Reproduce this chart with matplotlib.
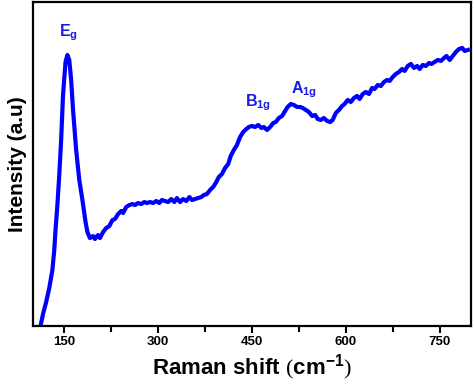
import matplotlib
matplotlib.use('Agg')
import matplotlib.pyplot as plt
from matplotlib.ticker import MultipleLocator

plt.rcParams['font.family'] = ['Liberation Sans', 'DejaVu Sans']
plt.rcParams['mathtext.fontset'] = 'custom'
plt.rcParams['mathtext.rm'] = 'Liberation Serif'
plt.rcParams['mathtext.bf'] = 'Liberation Sans:bold'
plt.rcParams['mathtext.it'] = 'Liberation Sans:bold'

# Raman spectrum
shift = [112, 116, 121, 126, 131, 134, 136, 139, 142, 145, 148, 152, 155, 158,
         161, 164, 169, 174, 179, 184, 187, 191, 196, 199, 204, 207, 212, 217,
         222, 227, 231, 236, 241, 244, 249, 254, 259, 263, 268, 273, 278, 282,
         287, 292, 297, 302, 306, 311, 316, 321, 326, 330, 335, 340, 345, 350,
         354, 359, 364, 369, 373, 378, 383, 388, 393, 397, 402, 407, 412, 416,
         421, 426, 431, 436, 441, 445, 450, 455, 460, 465, 469, 474, 479, 484,
         488, 493, 498, 503, 507, 512, 517, 522, 527, 531, 536, 541, 546, 551,
         555, 560, 565, 570, 575, 579, 584, 589, 594, 598, 603, 608, 613, 618,
         622, 627, 632, 637, 642, 646, 651, 656, 661, 666, 670, 675, 680, 685,
         690, 694, 699, 704, 709, 714, 718, 723, 728, 733, 737, 742, 747, 752,
         757, 761, 766, 771, 776, 781, 786, 790, 795]
intensity = [0, 12, 24, 38, 56, 76, 96, 121, 151, 186, 231, 264, 271, 266,
             246, 216, 176, 146, 126, 104, 94, 88, 90, 87, 91, 88, 94, 98,
             100, 106, 107, 112, 115, 113, 119, 121, 122, 121, 123, 122, 124, 123,
             124, 123, 125, 123, 126, 125, 124, 127, 124, 128, 124, 127, 125, 129,
             126, 127, 128, 129, 131, 132, 136, 139, 144, 149, 152, 158, 162, 170,
             176, 181, 189, 194, 197, 199, 200, 199, 201, 198, 199, 196, 199, 203,
             204, 208, 210, 215, 219, 222, 221, 219, 219, 218, 216, 214, 210, 211,
             207, 206, 208, 205, 204, 206, 213, 216, 220, 222, 226, 224, 228, 230,
             227, 232, 234, 232, 238, 237, 241, 240, 244, 246, 245, 249, 252, 254,
             257, 255, 260, 262, 258, 260, 257, 261, 260, 263, 262, 264, 266, 265,
             268, 270, 266, 270, 274, 277, 278, 275, 276]

peak_labels = [r'$\mathbf{E_g}$', r'$\mathbf{B_{1g}}$', r'$\mathbf{A_{1g}}$']
peak_shift = [156, 460, 533]
peak_height = [293, 223, 236]

fig = plt.figure(figsize=(4.74, 3.85), dpi=100)
ax = fig.add_axes([0.0696, 0.153, 0.924, 0.842])

ax.plot(shift, intensity, color='#0000ff', lw=3.0, solid_joinstyle='round')

for lab, xs, yh in zip(peak_labels, peak_shift, peak_height):
    ax.text(xs, yh, lab, color='#1a1ae6', fontsize=11.5, ha='center', va='center')

ax.set_xlim(100, 800)
ax.set_ylim(0, 324)
ax.xaxis.set_major_locator(MultipleLocator(150))
ax.xaxis.set_minor_locator(MultipleLocator(75))
ax.set_yticks([])
ax.tick_params(axis='x', which='major', length=5, width=1.5, direction='out',
               labelsize=9.5, pad=2)
ax.tick_params(axis='x', which='minor', length=4, width=1.5, direction='out')
for lbl in ax.get_xticklabels():
    lbl.set_fontweight('bold')
for sp in ax.spines.values():
    sp.set_linewidth(1.6)

ax.set_xlabel(r'Raman shift $\mathrm{(}\mathbf{cm^{-1}}\mathrm{)}$',
              fontsize=16, fontweight='bold', labelpad=3)
ax.set_ylabel('Intensity (a.u)', fontsize=15, fontweight='bold', labelpad=4)

fig.savefig('out.png', dpi=100)
